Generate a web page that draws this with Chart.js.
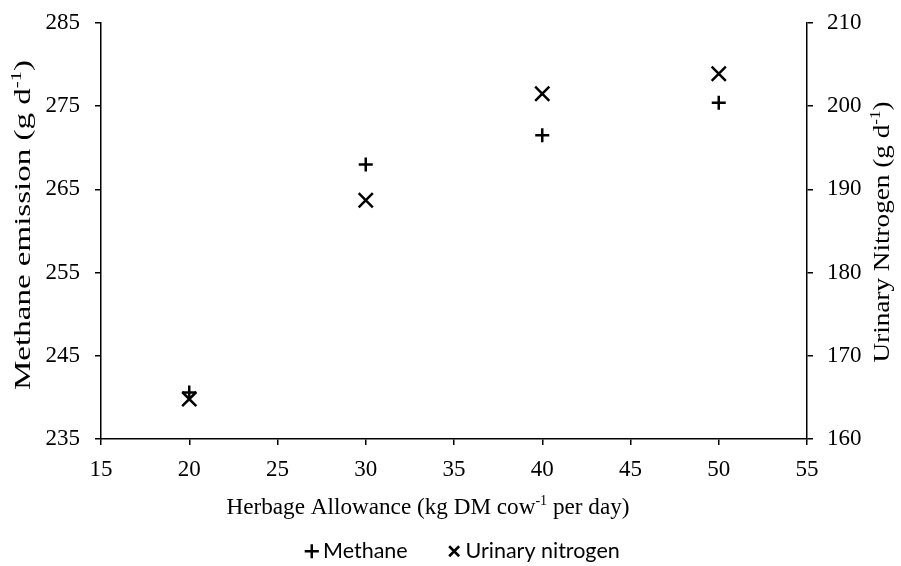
<!DOCTYPE html>
<html>
<head>
<meta charset="utf-8">
<script src="https://cdn.jsdelivr.net/npm/chart.js@4.4.1/dist/chart.umd.min.js"></script>
<style>
  html, body { margin: 0; padding: 0; background: #fff; }
  #wrap { width: 901px; height: 566px; }
</style>
</head>
<body>
<div id="wrap"><canvas id="emissionChart"></canvas></div>
<script>
// herbage allowance (kg DM/cow/day) and measured outputs
const allowance = [20, 30, 40, 50];
const methane = [240.6, 268.0, 271.5, 275.4];
const urinaryN = [164.8, 188.7, 201.5, 203.9];

const xTicks = { min: 15, max: 55, step: 5 };
const methaneTicks = { min: 235, max: 285, step: 10 };
const nitrogenTicks = { min: 160, max: 210, step: 10 };

const serif = "'Liberation Serif', 'Times New Roman', serif";

function toPoints(xs, ys) {
    return xs.map((x, i) => ({ x: x, y: ys[i] }));
}

// text with a superscript part; (cx, cy) is the centre of the capitals,
// len stretches the run to a given length along its direction
function drawRuns(ctx, runs, cx, cy, angle, size, len) {
    const supSize = Math.round(size * 0.62);
    ctx.save();
    ctx.translate(cx, cy);
    ctx.rotate(angle);
    ctx.textBaseline = "alphabetic";
    ctx.fillStyle = "#000";
    let total = 0;
    runs.forEach(r => {
        ctx.font = (r.sup ? supSize : size) + "px " + serif;
        r.w = ctx.measureText(r.t).width;
        total += r.w;
    });
    const k = len ? len / total : 1;
    ctx.scale(k, 1);
    let x = -total / 2;
    const base = size * 0.33;
    runs.forEach(r => {
        ctx.font = (r.sup ? supSize : size) + "px " + serif;
        ctx.fillText(r.t, x, r.sup ? base - size * 0.36 : base);
        x += r.w;
    });
    ctx.restore();
}

const axisTitles = {
    id: "axisTitles",
    afterDraw(chart) {
        const ctx = chart.ctx;
        drawRuns(ctx, [
            { t: "Herbage Allowance (kg DM cow" },
            { t: "-1", sup: true },
            { t: " per day)" }
        ], 428, 506, 0, 23, 403);
        drawRuns(ctx, [
            { t: "Methane emission (g d" },
            { t: "-1", sup: true },
            { t: ")" }
        ], 22, 225, -Math.PI / 2, 24, 330);
        drawRuns(ctx, [
            { t: "Urinary Nitrogen (g d" },
            { t: "-1", sup: true },
            { t: ")" }
        ], 881, 232, -Math.PI / 2, 24, 261);
    }
};

// move the legend row a little right and down under the title
const legendNudge = {
    id: "legendNudge",
    afterLayout(chart) {
        const l = chart.legend;
        l.left += 15; l.right += 15;
        l.top += 6; l.bottom += 6;
    }
};

function axis(t, pad, extra) {
    return Object.assign({
        type: "linear",
        min: t.min,
        max: t.max,
        border: { display: true, color: "#000", width: 1.5 },
        grid: { drawOnChartArea: false, drawTicks: true, tickLength: 6, color: "#000", lineWidth: 1.5 },
        ticks: { stepSize: t.step, padding: pad, color: "#000", font: { family: serif, size: 23 } }
    }, extra);
}

// fixed side widths; the label padding must not push the plot top down
function sideWidth(w) {
    return s => {
        s.width = w;
        s.paddingTop = 0;
        s.paddingBottom = 0;
    };
}

new Chart(document.getElementById("emissionChart"), {
    type: "scatter",
    data: {
        datasets: [{
            label: "Methane",
            data: toPoints(allowance, methane),
            yAxisID: "y",
            pointStyle: "cross",
            pointRadius: 7,
            pointHoverRadius: 7,
            borderColor: "#000",
            backgroundColor: "#000",
            borderWidth: 2.5
        }, {
            label: "Urinary nitrogen",
            data: toPoints(allowance, urinaryN),
            yAxisID: "y1",
            pointStyle: "crossRot",
            pointRadius: 10,
            pointHoverRadius: 10,
            borderColor: "#000",
            backgroundColor: "#000",
            borderWidth: 2.5
        }]
    },
    options: {
        responsive: true,
        maintainAspectRatio: false,
        animation: false,
        layout: { padding: { top: 23, bottom: 0, left: 0, right: 0 } },
        plugins: {
            tooltip: { enabled: false },
            legend: {
                position: "bottom",
                labels: {
                    usePointStyle: true,
                    boxWidth: 1,
                    boxHeight: 10,
                    padding: 46,
                    color: "#000",
                    font: { family: "Lato, 'Open Sans', sans-serif", size: 21.5 }
                }
            }
        },
        scales: {
            x: axis(xTicks, 11, {
                position: "bottom",
                afterFit: s => { s.height = 49.5; }
            }),
            y: axis(methaneTicks, 15, {
                position: "left",
                afterFit: sideWidth(101)
            }),
            y1: axis(nitrogenTicks, 14, {
                position: "right",
                afterFit: sideWidth(94)
            })
        }
    },
    plugins: [axisTitles, legendNudge]
});
</script>
</body>
</html>
